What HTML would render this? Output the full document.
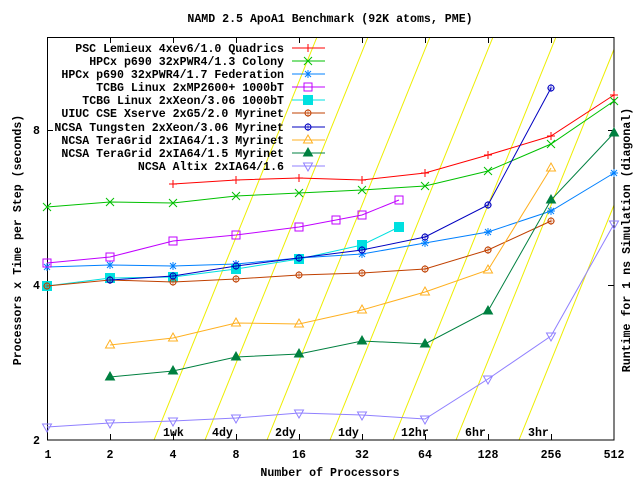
<!DOCTYPE html>
<html><head><meta charset="utf-8"><style>
html,body{margin:0;padding:0;background:#fff}
svg{display:block}
text{font-family:"Liberation Mono","DejaVu Sans Mono",monospace;font-weight:bold;font-size:11.6px;fill:#000}
</style></head><body>
<svg width="640" height="480" viewBox="0 0 640 480" xmlns="http://www.w3.org/2000/svg">
<defs>
<path id="pl" d="M-4,0h8M0,-4v8" fill="none"/>
<path id="px" d="M-4,-4l8,8M-4,4l8,-8" fill="none"/>
<path id="ps" d="M-4,0h8M0,-4v8M-3,-3l6,6M-3,3l6,-6" fill="none"/>
<rect id="sq" x="-4" y="-4" width="8" height="8" fill="none"/>
<rect id="fsq" x="-4.5" y="-4.5" width="9" height="9"/>
<g id="ci"><circle r="3" fill="none"/><path d="M0,-4v8M-4,0h8" fill="none" stroke-width="0.6"/></g>
<polygon id="tr" points="0,-5 4.5,3 -4.5,3" fill="none"/>
<polygon id="ftr" points="0,-5 4.5,3 -4.5,3"/>
<polygon id="itr" points="0,5 4.5,-3 -4.5,-3" fill="none"/>
<clipPath id="cp"><rect x="47" y="37" width="567" height="403"/></clipPath>
</defs>
<rect width="640" height="480" fill="#fff"/>
<g stroke="#eeee00" stroke-width="1" clip-path="url(#cp)">
<line x1="154" y1="440" x2="317" y2="37"/>
<line x1="205" y1="440" x2="368" y2="37"/>
<line x1="267" y1="440" x2="430" y2="37"/>
<line x1="330" y1="440" x2="493" y2="37"/>
<line x1="393" y1="440" x2="556" y2="37"/>
<line x1="456" y1="440" x2="619" y2="37"/>
<line x1="519" y1="440" x2="682" y2="37"/>
</g>
<g>
<text x="163" y="436">1wk</text>
<text x="212" y="436">4dy</text>
<text x="275" y="436">2dy</text>
<text x="338" y="436">1dy</text>
<text x="401" y="436">12hr</text>
<text x="465" y="436">6hr</text>
<text x="528" y="436">3hr</text>
</g>
<rect x="47.5" y="37.5" width="566.5" height="402.5" fill="none" stroke="#000"/>
<path stroke="#000" fill="none" d="M47,130.5h6M47,285.5h6M614,130.5h-6M614,285.5h-6
M110.5,440v-6M173.5,440v-6M236.5,440v-6M299.5,440v-6M362.5,440v-6M425.5,440v-6M488.5,440v-6M551.5,440v-6
M110.5,37v6M173.5,37v6M236.5,37v6M299.5,37v6M362.5,37v6M425.5,37v6M488.5,37v6M551.5,37v6"/>
<text x="40" y="134" text-anchor="end">8</text>
<text x="40" y="289" text-anchor="end">4</text>
<text x="40" y="444" text-anchor="end">2</text>
<g text-anchor="middle">
<text x="48" y="458">1</text><text x="110" y="458">2</text><text x="173" y="458">4</text><text x="236" y="458">8</text>
<text x="299" y="458">16</text><text x="362" y="458">32</text><text x="425" y="458">64</text><text x="488" y="458">128</text>
<text x="551" y="458">256</text><text x="614" y="458">512</text>
<text x="330" y="476">Number of Processors</text>
<text x="330" y="22">NAMD 2.5 ApoA1 Benchmark (92K atoms, PME)</text>
<text transform="translate(21,240) rotate(-90)">Processors x Time per Step (seconds)</text>
<text transform="translate(630,240) rotate(-90)">Runtime for 1 ns Simulation (diagonal)</text>
</g>
<g text-anchor="end">
<text x="284" y="52">PSC Lemieux 4xev6/1.0 Quadrics</text>
<text x="284" y="65">HPCx p690 32xPWR4/1.3 Colony</text>
<text x="284" y="78">HPCx p690 32xPWR4/1.7 Federation</text>
<text x="284" y="91">TCBG Linux 2xMP2600+ 1000bT</text>
<text x="284" y="104">TCBG Linux 2xXeon/3.06 1000bT</text>
<text x="284" y="117">UIUC CSE Xserve 2xG5/2.0 Myrinet</text>
<text x="284" y="131">NCSA Tungsten 2xXeon/3.06 Myrinet</text>
<text x="284" y="144">NCSA TeraGrid 2xIA64/1.3 Myrinet</text>
<text x="284" y="157">NCSA TeraGrid 2xIA64/1.5 Myrinet</text>
<text x="284" y="170">NCSA Altix 2xIA64/1.6</text>
</g>
<g fill="none">
<g stroke="#ff0000" fill="#ff0000"><line x1="292" y1="48" x2="325" y2="48"/><use href="#pl" x="308" y="48"/>
<polyline points="173,184 236,180 299,178 362,180 425,173 488,155 551,136 614,95" fill="none"/>
<use href="#pl" x="173" y="184"/><use href="#pl" x="236" y="180"/><use href="#pl" x="299" y="178"/><use href="#pl" x="362" y="180"/><use href="#pl" x="425" y="173"/><use href="#pl" x="488" y="155"/><use href="#pl" x="551" y="136"/><use href="#pl" x="614" y="95"/></g>
<g stroke="#00c000"><line x1="292" y1="61" x2="325" y2="61"/><use href="#px" x="308" y="61"/>
<polyline points="47,207 110,202 173,203 236,196 299,193 362,190 425,186 488,171 551,144 614,101"/>
<use href="#px" x="47" y="207"/><use href="#px" x="110" y="202"/><use href="#px" x="173" y="203"/><use href="#px" x="236" y="196"/><use href="#px" x="299" y="193"/><use href="#px" x="362" y="190"/><use href="#px" x="425" y="186"/><use href="#px" x="488" y="171"/><use href="#px" x="551" y="144"/><use href="#px" x="614" y="101"/></g>
<g stroke="#0080ff"><line x1="292" y1="74" x2="325" y2="74"/><use href="#ps" x="308" y="74"/>
<polyline points="47,267 110,265 173,266 236,264 299,258 362,254 425,243 488,232 551,211 614,173"/>
<use href="#ps" x="47" y="267"/><use href="#ps" x="110" y="265"/><use href="#ps" x="173" y="266"/><use href="#ps" x="236" y="264"/><use href="#ps" x="299" y="258"/><use href="#ps" x="362" y="254"/><use href="#ps" x="425" y="243"/><use href="#ps" x="488" y="232"/><use href="#ps" x="551" y="211"/><use href="#ps" x="614" y="173"/></g>
<g stroke="#c000ff"><line x1="292" y1="87" x2="325" y2="87"/><use href="#sq" x="308" y="87"/>
<polyline points="47,263 110,257 173,241 236,235 299,227 336,220 362,215 399,200"/>
<use href="#sq" x="47" y="263"/><use href="#sq" x="110" y="257"/><use href="#sq" x="173" y="241"/><use href="#sq" x="236" y="235"/><use href="#sq" x="299" y="227"/><use href="#sq" x="336" y="220"/><use href="#sq" x="362" y="215"/><use href="#sq" x="399" y="200"/></g>
<g stroke="#00e0e0" fill="#00e0e0"><line x1="292" y1="100" x2="325" y2="100"/><use href="#fsq" x="308" y="100"/>
<polyline fill="none" points="47,286 110,278 173,277 236,269 299,259 362,245 399,227"/>
<use href="#fsq" x="47" y="286"/><use href="#fsq" x="110" y="278"/><use href="#fsq" x="173" y="277"/><use href="#fsq" x="236" y="269"/><use href="#fsq" x="299" y="259"/><use href="#fsq" x="362" y="245"/><use href="#fsq" x="399" y="227"/></g>
<g stroke="#c04000"><line x1="292" y1="113" x2="325" y2="113"/><use href="#ci" x="308" y="113"/>
<polyline points="47,286 110,280 173,282 236,279 299,275 362,273 425,269 488,250 551,221"/>
<use href="#ci" x="47" y="286"/><use href="#ci" x="110" y="280"/><use href="#ci" x="173" y="282"/><use href="#ci" x="236" y="279"/><use href="#ci" x="299" y="275"/><use href="#ci" x="362" y="273"/><use href="#ci" x="425" y="269"/><use href="#ci" x="488" y="250"/><use href="#ci" x="551" y="221"/></g>
<g stroke="#0000c0"><line x1="292" y1="127" x2="325" y2="127"/><use href="#ci" x="308" y="127"/>
<polyline points="110,280 173,276 236,266 299,258 362,250 425,237 488,205 551,88"/>
<use href="#ci" x="110" y="280"/><use href="#ci" x="173" y="276"/><use href="#ci" x="236" y="266"/><use href="#ci" x="299" y="258"/><use href="#ci" x="362" y="250"/><use href="#ci" x="425" y="237"/><use href="#ci" x="488" y="205"/><use href="#ci" x="551" y="88"/></g>
<g stroke="#ffb020"><line x1="292" y1="140" x2="325" y2="140"/><use href="#tr" x="308" y="140"/>
<polyline points="110,345 173,338 236,323 299,324 362,310 425,292 488,270 551,168"/>
<use href="#tr" x="110" y="345"/><use href="#tr" x="173" y="338"/><use href="#tr" x="236" y="323"/><use href="#tr" x="299" y="324"/><use href="#tr" x="362" y="310"/><use href="#tr" x="425" y="292"/><use href="#tr" x="488" y="270"/><use href="#tr" x="551" y="168"/></g>
<g stroke="#008040" fill="#008040"><line x1="292" y1="153" x2="325" y2="153"/><use href="#ftr" x="308" y="153"/>
<polyline fill="none" points="110,377 173,371 236,357 299,354 362,341 425,344 488,311 551,200 614,133"/>
<use href="#ftr" x="110" y="377"/><use href="#ftr" x="173" y="371"/><use href="#ftr" x="236" y="357"/><use href="#ftr" x="299" y="354"/><use href="#ftr" x="362" y="341"/><use href="#ftr" x="425" y="344"/><use href="#ftr" x="488" y="311"/><use href="#ftr" x="551" y="200"/><use href="#ftr" x="614" y="133"/></g>
<g stroke="#9080ff"><line x1="292" y1="166" x2="325" y2="166"/><use href="#itr" x="308" y="166"/>
<polyline points="47,427 110,423 173,421 236,418 299,413 362,415 425,419 488,379 551,336 614,224"/>
<use href="#itr" x="47" y="427"/><use href="#itr" x="110" y="423"/><use href="#itr" x="173" y="421"/><use href="#itr" x="236" y="418"/><use href="#itr" x="299" y="413"/><use href="#itr" x="362" y="415"/><use href="#itr" x="425" y="419"/><use href="#itr" x="488" y="379"/><use href="#itr" x="551" y="336"/><use href="#itr" x="614" y="224"/></g>
</g>
</svg>
</body></html>
